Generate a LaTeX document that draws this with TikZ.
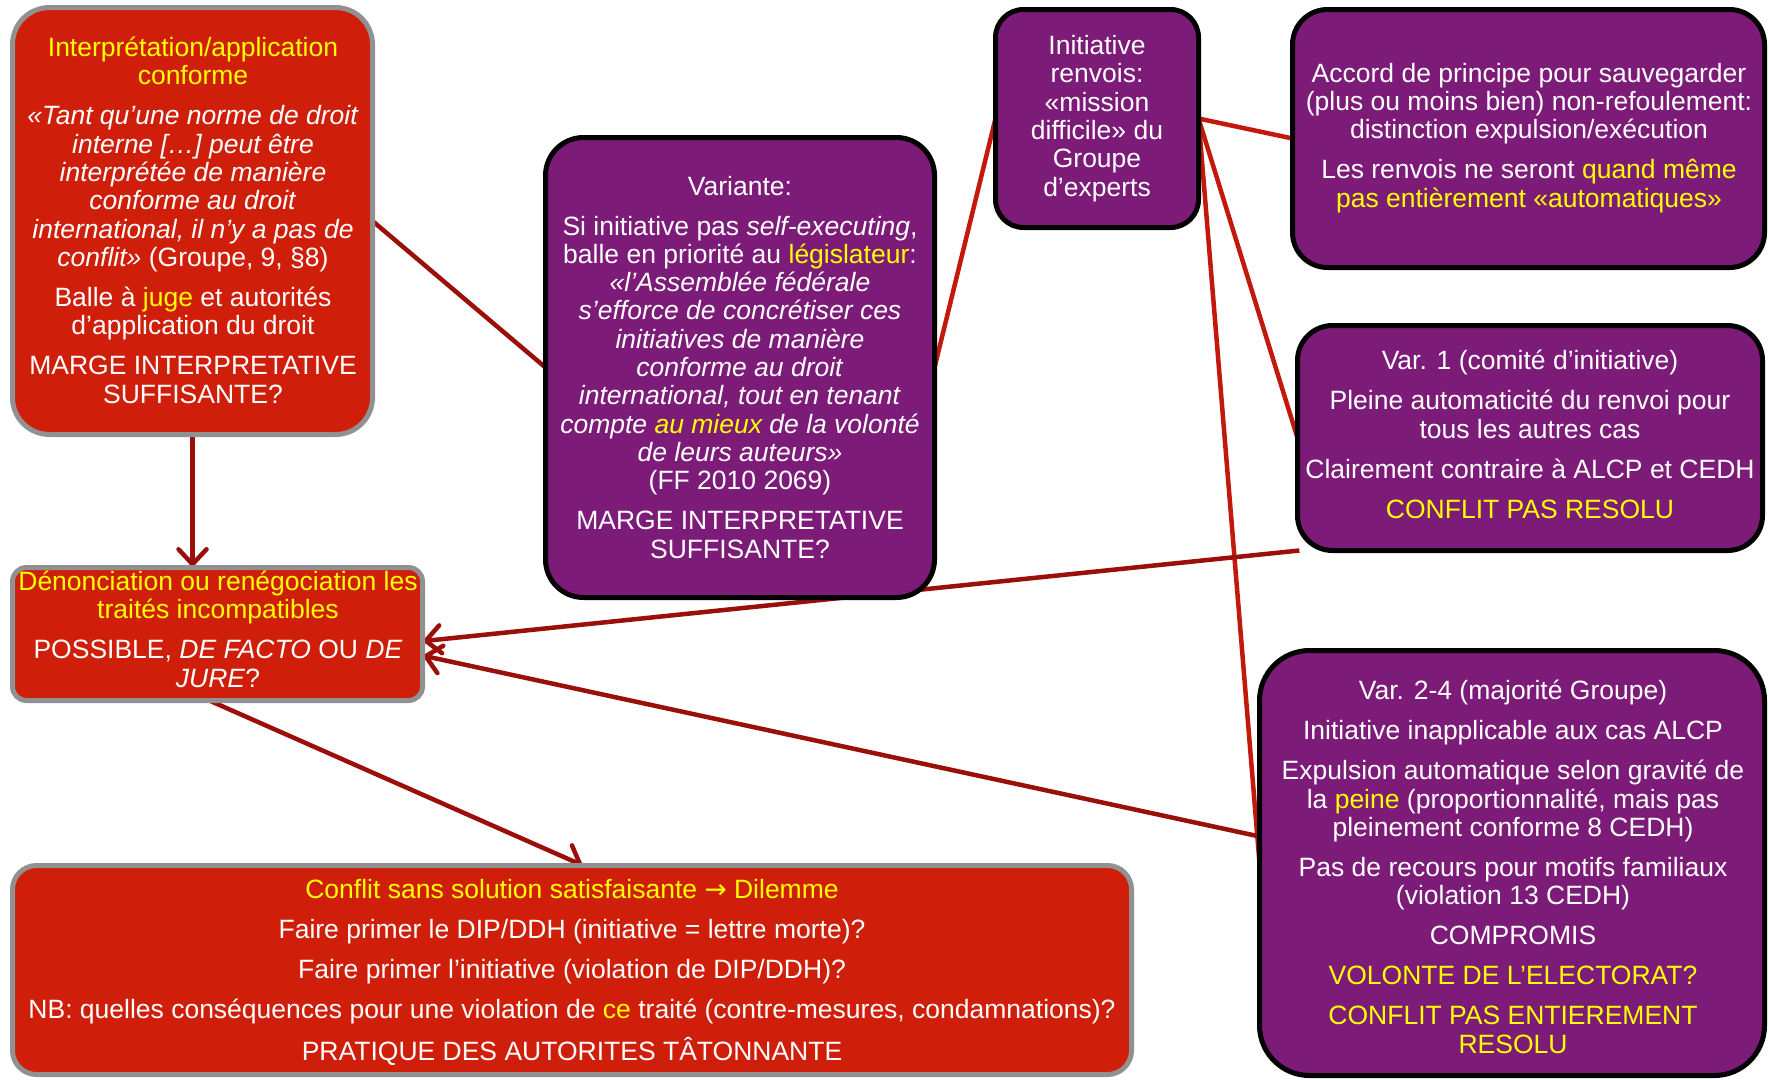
\documentclass[tikz,border=0pt]{standalone}
\usepackage{fontspec}
\setmainfont{Liberation Sans}
\newfontfamily\djv{DejaVu Sans}
\usetikzlibrary{arrows.meta}
\definecolor{redfill}{RGB}{207,30,10}
\definecolor{purfill}{RGB}{124,27,120}
\definecolor{grayedge}{RGB}{145,145,145}
\definecolor{dkred}{RGB}{155,15,10}
\definecolor{brred}{RGB}{195,25,12}
\definecolor{yl}{RGB}{255,255,0}
\pgfdeclarelayer{background}
\pgfsetlayers{background,main}
\newcommand{\yl}[1]{\textcolor{yl}{#1}}
\begin{document}
\begin{tikzpicture}[x=1pt,y=-1pt,
  redbox/.style={draw=grayedge, fill=redfill, line width=5pt, inner sep=0pt, outer sep=0pt},
  purbox/.style={draw=black, fill=purfill, line width=5pt, inner sep=0pt, outer sep=0pt},
  txt/.style={text=white, align=center, anchor=base, inner sep=0pt, font=\fontsize{26.5}{28.3}\selectfont},
  dline/.style={draw=dkred, line width=4.5pt},
  rline/.style={draw=brred, line width=4.5pt},
  arr/.style={dline, -{Straight Barb[length=15pt,width=28pt,line width=4.5pt,round]}, shorten >=1pt}
]
\useasboundingbox (0,0) rectangle (1769,1079);

% boxes
\node[redbox, rounded corners=37pt, minimum width=360pt, minimum height=427pt] (interp) at (192.5,221) {};
\node[purbox, rounded corners=38pt, minimum width=389pt, minimum height=460pt] (varr) at (740,367.5) {};
\node[purbox, rounded corners=28pt, minimum width=203pt, minimum height=218pt] (init) at (1097,118.5) {};
\node[purbox, rounded corners=35pt, minimum width=472pt, minimum height=258pt] (accord) at (1528.5,138.5) {};
\node[purbox, rounded corners=35pt, minimum width=465pt, minimum height=225pt] (var1) at (1530,438) {};
\node[redbox, rounded corners=14pt, minimum width=410pt, minimum height=133pt] (den) at (217.5,634) {};
\node[purbox, rounded corners=50pt, minimum width=505pt, minimum height=425pt] (var24) at (1512,863) {};
\node[redbox, rounded corners=24pt, minimum width=1119pt, minimum height=209pt] (conflit) at (572,970) {};

% texts (anchor = baseline of the last line)
\node[txt] (interpT) at (193,403) {\yl{Interprétation/application}\\\yl{conforme}\\[11.7pt]
\textit{«Tant qu’une norme de droit}\\\textit{interne […] peut être}\\\textit{interprétée de manière}\\\textit{conforme au droit}\\\textit{international, il n’y a pas de}\\\textit{conflit»} (Groupe, 9, §8)\\[11.7pt]
Balle à \yl{juge} et autorités\\d’application du droit\\[11.7pt]
MARGE INTERPRETATIVE\\SUFFISANTE?};

\node[txt] (varrT) at (740,558) {Variante:\\[11.7pt]
Si initiative pas \textit{self-executing},\\balle en priorité au \yl{législateur}:\\\textit{«l’Assemblée fédérale}\\\textit{s’efforce de concrétiser ces}\\\textit{initiatives de manière}\\\textit{conforme au droit}\\\textit{international, tout en tenant}\\\textit{compte \yl{au mieux} de la volonté}\\\textit{de leurs auteurs»}\\(FF 2010 2069)\\[11.7pt]
MARGE INTERPRETATIVE\\SUFFISANTE?};

\node[txt] (initT) at (1097,196) {Initiative\\renvois:\\«mission\\difficile» du\\Groupe\\d’experts};

\node[txt] (accordT) at (1529,207) {Accord de principe pour sauvegarder\\(plus ou moins bien) non-refoulement:\\distinction expulsion/exécution\\[11.7pt]
Les renvois ne seront \yl{quand même}\\\yl{pas entièrement «automatiques»}};

\node[txt] (var1T) at (1530,518) {Var. 1 (comité d’initiative)\\[11.7pt]
Pleine automaticité du renvoi pour\\tous les autres cas\\[11.7pt]
Clairement contraire à ALCP et CEDH\\[11.7pt]
\yl{CONFLIT PAS RESOLU}};

\node[txt] (denT) at (218,687) {\yl{Dénonciation ou renégociation les}\\\yl{traités incompatibles}\\[11.7pt]
POSSIBLE, \textit{DE FACTO} OU \textit{DE}\\\textit{JURE}?};

\node[txt] (var24T) at (1513,1053) {Var. 2-4 (majorité Groupe)\\[11.7pt]
Initiative inapplicable aux cas ALCP\\[11.7pt]
Expulsion automatique selon gravité de\\la \yl{peine} (proportionnalité, mais pas\\pleinement conforme 8 CEDH)\\[11.7pt]
Pas de recours pour motifs familiaux\\(violation 13 CEDH)\\[11.7pt]
COMPROMIS\\[11.7pt]
\yl{VOLONTE DE L’ELECTORAT?}\\[11.7pt]
\yl{CONFLIT PAS ENTIEREMENT}\\\yl{RESOLU}};

\node[txt] (conflitT) at (572,1060) {\yl{Conflit sans solution satisfaisante {\djv →} Dilemme}\\[11.7pt]
Faire primer le DIP/DDH (initiative = lettre morte)?\\[11.7pt]
Faire primer l’initiative (violation de DIP/DDH)?\\[11.7pt]
NB: quelles conséquences pour une violation de \yl{ce} traité (contre-mesures, condamnations)?\\[11.7pt]
PRATIQUE DES AUTORITES TÂTONNANTE};

% connectors
\begin{pgfonlayer}{background}
\fill[white] (0,0) rectangle (1769,1079);
\draw[arr] (interp.south) -- (interp.south |- den.north);
\draw[dline] (interp.east) -- (varr.west);
\draw[rline] (varr.east) -- (init.west);
\draw[rline] (init.east) -- (accord.west);
\draw[rline] (init.east) -- (var1.west);
\draw[rline] (init.east) -- (var24.west);
\draw[arr] (var1.206.6) -- (den.-2.2);
\draw[arr] (var24.174.5) -- (den.-6.4);
\draw[arr] (den.-97.5) -- (conflit.84);
\end{pgfonlayer}
\end{tikzpicture}
\end{document}
